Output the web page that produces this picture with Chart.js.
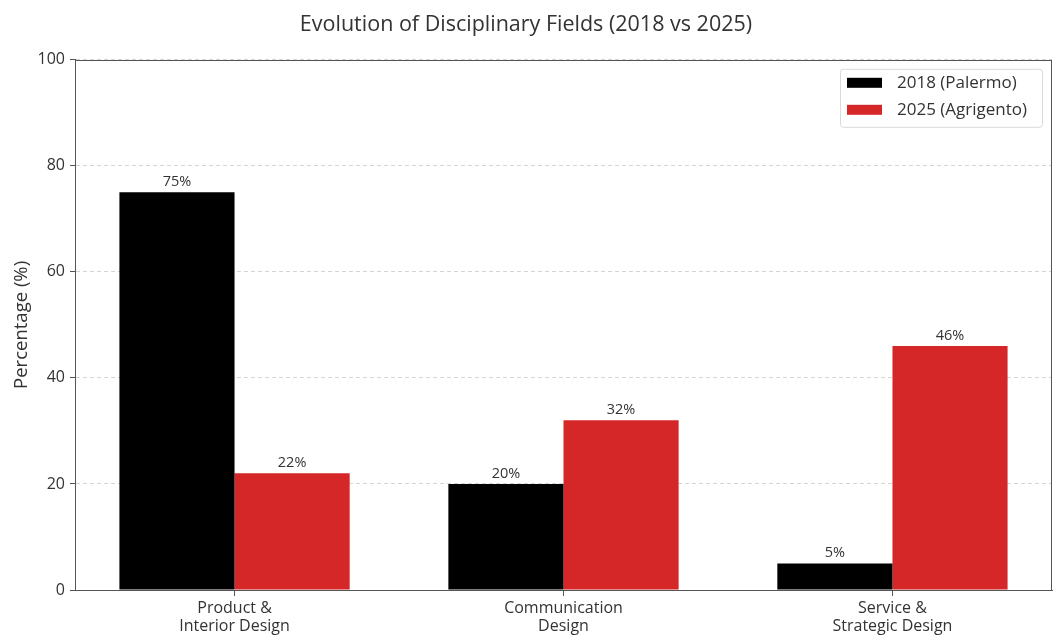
<!DOCTYPE html>
<html>
<head>
<meta charset="utf-8">
<script src="https://cdn.jsdelivr.net/npm/chart.js@4.4.1/dist/chart.umd.min.js"></script>
<style>
  html, body { margin: 0; padding: 0; background: #ffffff; }
  #wrap { width: 1057px; height: 637px; position: relative; }
</style>
</head>
<body>
<div id="wrap"><canvas id="chart" width="1057" height="637"></canvas></div>
<script>
// Disciplinary fields compared between the two editions
const categories = [["Product &", "Interior Design"], ["Communication", "Design"], ["Service &", "Strategic Design"]];
const seriesLabels = ["2018 (Palermo)", "2025 (Agrigento)"];
const values2018 = [75, 20, 5];
const values2025 = [22, 32, 46];
const yTicks = [0, 20, 40, 60, 80, 100];

const FONT = "'Open Sans', sans-serif";
const TEXT = "#333333";
const FRAME = "#555555";

const toPoints = (vals) => vals.map((v, i) => ({ x: i, y: v }));

// Full box around the plotting area, drawn above the bars
const framePlugin = {
  id: "frame",
  afterDatasetsDraw(chart) {
    const { ctx, chartArea: a } = chart;
    ctx.save();
    ctx.strokeStyle = FRAME;
    ctx.lineWidth = 1;
    ctx.strokeRect(Math.round(a.left) + 0.5, Math.round(a.top) + 0.5,
                   Math.round(a.right - a.left) - 1, Math.round(a.bottom - a.top));
    ctx.restore();
  }
};

// Percent labels above each bar
const valueLabels = {
  id: "valueLabels",
  afterDatasetsDraw(chart) {
    const { ctx } = chart;
    ctx.save();
    ctx.font = "14.5px " + FONT;
    ctx.fillStyle = TEXT;
    ctx.textAlign = "center";
    ctx.textBaseline = "alphabetic";
    chart.data.datasets.forEach((ds, di) => {
      chart.getDatasetMeta(di).data.forEach((bar, i) => {
        ctx.fillText(ds.data[i].y + "%", bar.x, bar.y - 6);
      });
    });
    ctx.restore();
  }
};

// Boxed legend in the upper-right corner of the plot
const boxLegend = {
  id: "boxLegend",
  afterDraw(chart) {
    const { ctx, chartArea: a } = chart;
    const w = 202, h = 58, x = a.right - 10 - w, y = a.top + 9;
    ctx.save();
    ctx.fillStyle = "rgba(255,255,255,0.9)";
    ctx.strokeStyle = "#dadada";
    ctx.lineWidth = 1;
    ctx.beginPath();
    ctx.roundRect(x + 0.5, y + 0.5, w, h, 3);
    ctx.fill();
    ctx.stroke();
    ctx.font = "17px " + FONT;
    ctx.textBaseline = "middle";
    chart.data.datasets.forEach((ds, i) => {
      const cy = y + 14 + i * 27;
      ctx.fillStyle = ds.backgroundColor;
      ctx.fillRect(x + 7, cy - 5, 35, 10);
      ctx.fillStyle = TEXT;
      ctx.fillText(ds.label, x + 57, cy);
    });
    ctx.restore();
  }
};

new Chart(document.getElementById("chart"), {
  type: "bar",
  data: {
    datasets: [
      { label: seriesLabels[0], data: toPoints(values2018), backgroundColor: "#000000" },
      { label: seriesLabels[1], data: toPoints(values2025), backgroundColor: "#d62728" }
    ]
  },
  options: {
    responsive: false,
    animation: false,
    devicePixelRatio: 1,
    layout: { padding: { left: 0, right: 5, top: 0, bottom: 0 } },
    datasets: { bar: { categoryPercentage: 0.7, barPercentage: 1.0 } },
    plugins: {
      legend: { display: false },
      tooltip: { enabled: false },
      title: {
        display: true,
        text: "Evolution of Disciplinary Fields (2018 vs 2025)",
        color: TEXT,
        font: { family: FONT, size: 21.5, weight: "normal" },
        padding: { top: 12, bottom: 22 }
      }
    },
    scales: {
      x: {
        type: "linear",
        min: -0.485,
        max: 2.485,
        offset: false,
        afterBuildTicks(axis) {
          axis.ticks = categories.map((c, i) => ({ value: i }));
        },
        afterFit(axis) { axis.height = 47; },
        ticks: {
          color: TEXT,
          font: { family: FONT, size: 16, lineHeight: 1.15 },
          padding: 3,
          maxRotation: 0,
          autoSkip: false,
          callback: (v) => categories[v]
        },
        grid: { offset: false, drawOnChartArea: false, drawTicks: true, tickLength: 6, tickColor: FRAME },
        border: { display: true, color: FRAME }
      },
      y: {
        min: 0,
        max: 100,
        afterBuildTicks(axis) {
          axis.ticks = yTicks.map((v) => ({ value: v }));
        },
        afterFit(axis) { axis.width = 75; },
        ticks: {
          color: TEXT,
          font: { family: FONT, size: 16 },
          padding: 5
        },
        title: {
          display: true,
          text: "Percentage (%)",
          color: TEXT,
          font: { family: FONT, size: 18.5 },
          padding: { top: 11, bottom: 0 }
        },
        grid: { color: "#d4d4d4", lineWidth: 1, tickLength: 5, tickColor: FRAME, tickBorderDash: [] },
        border: { display: true, color: FRAME, dash: [4, 3] }
      }
    }
  },
  plugins: [framePlugin, valueLabels, boxLegend]
});
</script>
</body>
</html>
